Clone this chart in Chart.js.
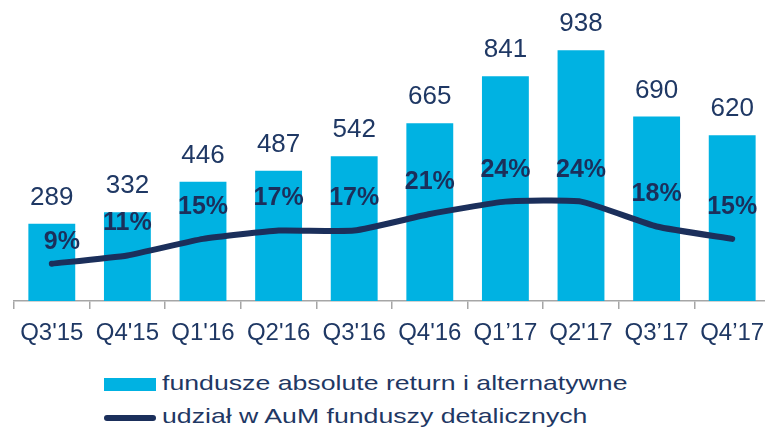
<!DOCTYPE html>
<html>
<head>
<meta charset="utf-8">
<script src="https://cdn.jsdelivr.net/npm/chart.js@4.4.0/dist/chart.umd.min.js"></script>
<style>
  html, body { margin: 0; padding: 0; background: #fff; overflow: hidden; width: 765px; height: 431px; }
  #wrap { position: absolute; left: 0; top: 0; width: 780px; height: 345px; }
  .leg { position: absolute; left: 104px; font: 21px "Liberation Sans", Arial, sans-serif; color: #1f3864; white-space: nowrap; }
  .leg .sw { position: absolute; left: 0; }
  .leg span.t { position: absolute; left: 58px; top: 0; transform: scaleX(1.27); transform-origin: 0 0; }
</style>
</head>
<body>
<div id="wrap"><canvas id="c"></canvas></div>
<div class="leg" style="top:371px"><div class="sw" style="top:7px;width:52px;height:13px;background:#00b2e2"></div><span class="t">fundusze absolute return i alternatywne</span></div>
<div class="leg" style="top:404px"><div class="sw" style="top:11px;width:52px;height:6px;border-radius:3px;background:#1b2f5b"></div><span class="t">udział w AuM funduszy detalicznych</span></div>
<script>
const quarters = ["Q3'15", "Q4'15", "Q1'16", "Q2'16", "Q3'16", "Q4'16", "Q1’17", "Q2'17", "Q3’17", "Q4’17"];
const funds = [289, 332, 446, 487, 542, 665, 841, 938, 690, 620];
const share = [9, 11, 15, 17, 17, 21, 24, 24, 18, 15];

const NAVY = '#1f3864';
const LINE = '#1b2f5b';
const FONT = '"Liberation Sans", Arial, sans-serif';

const labels = {
  id: 'labels',
  afterDatasetsDraw(chart) {
    const ctx = chart.ctx;
    ctx.save();
    ctx.textAlign = 'center';
    ctx.textBaseline = 'middle';
    ctx.fillStyle = NAVY;
    ctx.font = '26px ' + FONT;
    chart.getDatasetMeta(1).data.forEach((b, i) => {
      ctx.fillText(funds[i], b.x, b.y - 26);
    });
    ctx.fillStyle = LINE;
    ctx.font = 'bold 25px ' + FONT;
    chart.getDatasetMeta(0).data.forEach((p, i) => {
      const dx = i === 0 ? 10 : 0;
      const dy = i === 0 ? 22 : 32;
      ctx.fillText(share[i] + '%', p.x + dx, p.y - dy);
    });
    ctx.restore();
  }
};

new Chart(document.getElementById('c'), {
  type: 'bar',
  data: {
    labels: quarters,
    datasets: [
      {
        type: 'line',
        label: 'udział w AuM funduszy detalicznych',
        data: share,
        yAxisID: 'y2',
        borderColor: LINE,
        borderWidth: 6,
        borderCapStyle: 'round',
        borderJoinStyle: 'round',
        tension: 0.15,
        pointRadius: 0,
        order: 0,
      },
      {
        label: 'fundusze absolute return i alternatywne',
        data: funds,
        yAxisID: 'y',
        backgroundColor: '#00b2e2',
        categoryPercentage: 1,
        barPercentage: 0.62,
        order: 1,
      },
    ],
  },
  options: {
    responsive: true,
    maintainAspectRatio: false,
    animation: false,
    layout: { padding: { left: 14, right: 10, top: 7, bottom: 0 } },
    plugins: { legend: { display: false }, tooltip: { enabled: false } },
    scales: {
      x: {
        grid: { display: true, drawOnChartArea: false, drawTicks: true, tickLength: 8, color: '#a6a6a6', lineWidth: 1.5 },
        border: { display: true, color: '#a6a6a6', width: 1.5 },
        ticks: { color: NAVY, font: { size: 24, family: FONT }, padding: 10, maxRotation: 0, autoSkip: false },
        afterFit: s => { s.height = 44; },
      },
      y: { display: false, min: 0, max: 1100 },
      y2: { display: false, min: 0, max: 71 },
    },
  },
  plugins: [labels],
});
</script>
</body>
</html>
